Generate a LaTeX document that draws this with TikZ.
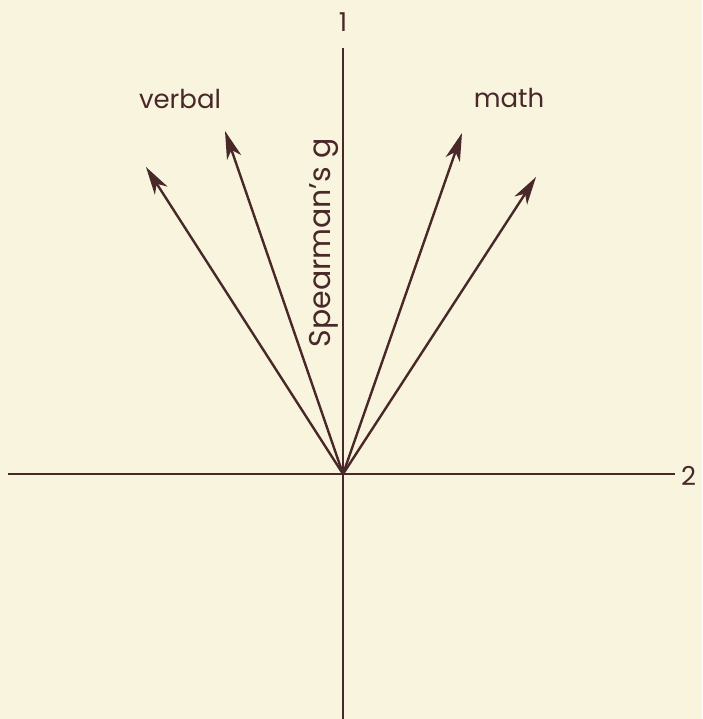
\documentclass[tikz,border=0pt]{standalone}
\usepackage{fontspec}
\setmainfont{Poppins}
\usetikzlibrary{arrows.meta,positioning}
\definecolor{paperBg}{RGB}{249,244,222}
\definecolor{inkBrown}{RGB}{72,40,40}

\begin{document}
\begin{tikzpicture}[x=1pt, y=-1pt, line width=2.4pt, color=inkBrown,
  vec/.style={-{Stealth[length=28pt,width=15pt,inset=8pt]}},
  lbl/.style={font=\fontsize{26}{28}\selectfont, inner sep=0pt}]
  \fill[paperBg] (0,0) rectangle (702,719);
  \useasboundingbox (0,0) rectangle (702,719);

  % axes
  \coordinate (O) at (343,474);
  \coordinate (gTop) at (343,48);
  \coordinate (gBot) at (343,719);
  \coordinate (fLeft) at (8,474);
  \coordinate (fRight) at (675,474);
  \draw (gTop) -- (gBot);
  \draw (fLeft) -- (fRight);
  \node[lbl] (one) at (343,22) {1};
  \node[lbl, anchor=west] (two) at (680,476) {2};
  \node[lbl, font=\fontsize{30}{32}\selectfont, rotate=90] (gLabel) at (324,243) {Spearman's g};

  % test vectors
  \coordinate (v1) at (146,167);
  \coordinate (v2) at (225,131);
  \coordinate (m1) at (462,133);
  \coordinate (m2) at (536,177);
  \foreach \tip in {v1,v2,m1,m2}
    \draw[vec] (O) -- (\tip);
  \node[lbl] (verbal) at (180,99) {verbal};
  \node[lbl] (math) at (509,98) {math};
\end{tikzpicture}
\end{document}
